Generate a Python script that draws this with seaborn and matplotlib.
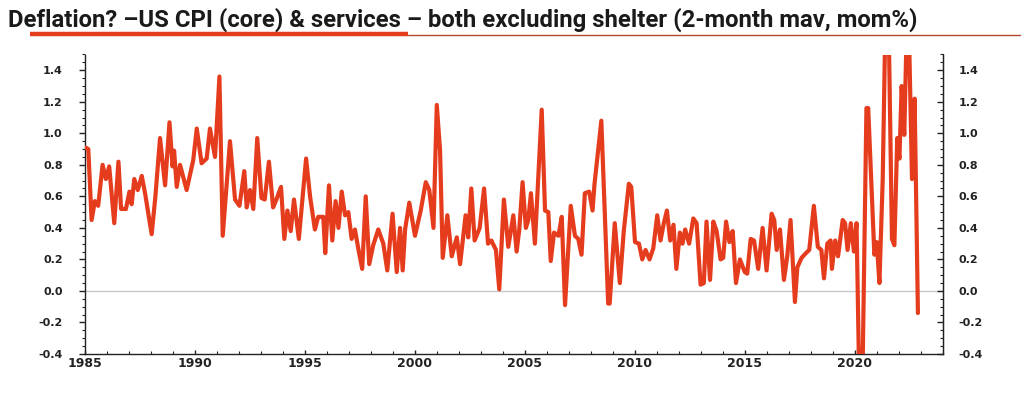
import matplotlib
matplotlib.use("Agg")
import matplotlib.pyplot as plt
from matplotlib.lines import Line2D
from matplotlib.ticker import MultipleLocator, FormatStrFormatter
import seaborn as sns
import pandas as pd

# ---- data (decimal year, value in mom%) ----
years = [
    1985.02, 1985.15, 1985.30, 1985.45, 1985.60, 1985.80, 1985.95, 1986.10, 1986.33, 1986.52, 1986.64, 1986.86,
    1987.02, 1987.12, 1987.24, 1987.40, 1987.58, 1987.73, 1988.03, 1988.20, 1988.41, 1988.64, 1988.84, 1988.98,
    1989.05, 1989.17, 1989.32, 1989.62, 1989.92, 1990.08, 1990.30, 1990.53, 1990.68, 1990.91, 1991.11, 1991.26,
    1991.59, 1991.82, 1992.02, 1992.24, 1992.35, 1992.50, 1992.65, 1992.83, 1993.02, 1993.17, 1993.36, 1993.55,
    1993.70, 1993.91, 1994.06, 1994.20, 1994.35, 1994.50, 1994.72, 1995.05, 1995.23, 1995.45, 1995.60, 1995.83,
    1995.92, 1996.09, 1996.24, 1996.39, 1996.52, 1996.67, 1996.82, 1996.97, 1997.12, 1997.27, 1997.42, 1997.60,
    1997.76, 1997.92, 1998.10, 1998.33, 1998.56, 1998.74, 1998.98, 1999.17, 1999.32, 1999.44, 1999.55, 1999.74,
    2000.00, 2000.26, 2000.49, 2000.65, 2000.84, 2000.99, 2001.14, 2001.26, 2001.47, 2001.67, 2001.90, 2002.05,
    2002.30, 2002.42, 2002.56, 2002.71, 2002.94, 2003.14, 2003.32, 2003.47, 2003.68, 2003.83, 2004.04, 2004.24,
    2004.47, 2004.62, 2004.74, 2004.89, 2005.04, 2005.15, 2005.27, 2005.45, 2005.76, 2005.91, 2006.06, 2006.17,
    2006.32, 2006.52, 2006.67, 2006.82, 2007.08, 2007.27, 2007.42, 2007.57, 2007.72, 2007.92, 2008.07, 2008.16,
    2008.47, 2008.78, 2008.85, 2009.08, 2009.31, 2009.49, 2009.72, 2009.83, 2010.00, 2010.18, 2010.33, 2010.48,
    2010.66, 2010.83, 2011.01, 2011.16, 2011.31, 2011.45, 2011.60, 2011.75, 2011.88, 2012.04, 2012.16, 2012.28,
    2012.46, 2012.65, 2012.80, 2012.98, 2013.13, 2013.25, 2013.41, 2013.56, 2013.71, 2013.89, 2014.01, 2014.14,
    2014.29, 2014.44, 2014.59, 2014.77, 2014.99, 2015.10, 2015.26, 2015.41, 2015.60, 2015.80, 2015.98, 2016.21,
    2016.33, 2016.44, 2016.59, 2016.77, 2016.92, 2017.07, 2017.27, 2017.38, 2017.57, 2017.77, 2017.92, 2018.13,
    2018.31, 2018.47, 2018.59, 2018.74, 2018.89, 2018.95, 2019.10, 2019.23, 2019.44, 2019.55, 2019.66, 2019.81,
    2019.95, 2020.07, 2020.19, 2020.34, 2020.52, 2020.60, 2020.88, 2020.99, 2021.11, 2021.26, 2021.38, 2021.53,
    2021.68, 2021.79, 2021.92, 2022.02, 2022.12, 2022.24, 2022.34, 2022.46, 2022.59, 2022.71, 2022.86,
]
values = [
    0.91, 0.90, 0.45, 0.57, 0.54, 0.80, 0.71, 0.79, 0.43, 0.82, 0.52, 0.52,
    0.63, 0.55, 0.71, 0.64, 0.73, 0.62, 0.36, 0.60, 0.97, 0.67, 1.07, 0.79,
    0.89, 0.66, 0.80, 0.64, 0.83, 1.03, 0.81, 0.84, 1.03, 0.85, 1.36, 0.35,
    0.95, 0.58, 0.54, 0.76, 0.53, 0.64, 0.52, 0.97, 0.59, 0.58, 0.82, 0.53,
    0.58, 0.66, 0.33, 0.51, 0.38, 0.58, 0.33, 0.84, 0.60, 0.39, 0.47, 0.47,
    0.24, 0.67, 0.32, 0.57, 0.40, 0.63, 0.48, 0.50, 0.33, 0.39, 0.27, 0.14,
    0.60, 0.17, 0.29, 0.39, 0.30, 0.13, 0.49, 0.12, 0.40, 0.13, 0.39, 0.56,
    0.35, 0.51, 0.69, 0.64, 0.40, 1.18, 0.89, 0.21, 0.48, 0.22, 0.34, 0.17,
    0.48, 0.34, 0.65, 0.32, 0.40, 0.65, 0.30, 0.32, 0.26, 0.01, 0.58, 0.28,
    0.48, 0.25, 0.39, 0.69, 0.40, 0.45, 0.62, 0.30, 1.15, 0.51, 0.50, 0.19,
    0.37, 0.35, 0.47, -0.09, 0.54, 0.35, 0.33, 0.23, 0.62, 0.63, 0.51, 0.68,
    1.08, -0.08, -0.08, 0.43, 0.05, 0.38, 0.68, 0.66, 0.31, 0.30, 0.20, 0.26,
    0.20, 0.27, 0.48, 0.32, 0.43, 0.51, 0.32, 0.42, 0.14, 0.37, 0.30, 0.39,
    0.30, 0.46, 0.43, 0.04, 0.05, 0.44, 0.07, 0.44, 0.38, 0.20, 0.21, 0.44,
    0.31, 0.38, 0.05, 0.20, 0.12, 0.11, 0.33, 0.32, 0.14, 0.40, 0.13, 0.49,
    0.45, 0.26, 0.39, 0.07, 0.22, 0.45, -0.07, 0.15, 0.21, 0.24, 0.26, 0.54,
    0.28, 0.26, 0.08, 0.30, 0.32, 0.14, 0.32, 0.22, 0.45, 0.43, 0.26, 0.43,
    0.25, 0.43, -0.55, -0.55, 1.16, 1.16, 0.23, 0.31, 0.05, 0.71, 1.70, 1.70,
    0.33, 0.29, 0.97, 0.84, 1.30, 0.99, 1.60, 1.60, 0.71, 1.22, -0.14,
]
ytick_vals = [-0.4, -0.2, 0.0, 0.2, 0.4, 0.6, 0.8, 1.0, 1.2, 1.4]
xtick_vals = [1985, 1990, 1995, 2000, 2005, 2010, 2015, 2020]
title = "Deflation? \u2013US CPI (core) & services \u2013 both excluding shelter (2-month mav, mom%)"

df = pd.DataFrame({"year": years, "value": values})

sns.set_style("white")
plt.rcParams["axes.unicode_minus"] = False
plt.rcParams["font.family"] = ["DejaVu Sans"]

RED = "#E63C1E"
TICKFONT = dict(family="DejaVu Sans", weight="bold", size=8)

fig = plt.figure(figsize=(10.24, 3.98), dpi=100)
ax = fig.add_axes([85 / 1024, 1 - 354 / 398, (943 - 85) / 1024, (354 - 54.5) / 398])

ax.axhline(0, color="#c8c8c8", lw=1.0, zorder=0)
sns.lineplot(data=df, x="year", y="value", ax=ax, color=RED, linewidth=3.0,
             sort=False, estimator=None, zorder=3)

ax.set_xlim(1985, 2024)
ax.set_ylim(-0.4, 1.5)
ax.set_xlabel("")
ax.set_ylabel("")

for s in ["left", "bottom", "right"]:
    ax.spines[s].set_visible(True)
    ax.spines[s].set_color("#222222")
    ax.spines[s].set_linewidth(1.0)
ax.spines["top"].set_visible(False)

ax.set_yticks(ytick_vals)
ax.yaxis.set_major_formatter(FormatStrFormatter("%.1f"))
ax.yaxis.set_minor_locator(MultipleLocator(0.05))
ax.set_xticks(xtick_vals)
ax.xaxis.set_minor_locator(MultipleLocator(1))

ax.tick_params(axis="y", which="major", direction="out", length=4, width=1,
               left=True, right=False, pad=12, colors="#222222")
ax.tick_params(axis="y", which="minor", direction="out", length=2, width=0.8,
               left=True, right=False)
ax.tick_params(axis="x", which="major", direction="in", length=3, width=1,
               bottom=True, pad=2, colors="#222222")
ax.tick_params(axis="x", which="minor", direction="in", length=2, width=0.8, bottom=True)
for lab in ax.get_yticklabels():
    lab.set(**TICKFONT)
for lab in ax.get_xticklabels():
    lab.set(family="DejaVu Sans", weight="bold", size=9)

ax2 = ax.twinx()
ax2.set_ylim(-0.4, 1.5)
ax2.set_yticks(ytick_vals)
ax2.yaxis.set_major_formatter(FormatStrFormatter("%.1f"))
ax2.yaxis.set_minor_locator(MultipleLocator(0.05))
ax2.tick_params(axis="y", which="major", direction="in", length=4, width=1,
                pad=11, colors="#222222")
ax2.tick_params(axis="y", which="minor", direction="in", length=2, width=0.8)
for s in ["left", "bottom", "top"]:
    ax2.spines[s].set_visible(False)
ax2.spines["right"].set_color("#222222")
for lab in ax2.get_yticklabels():
    lab.set(**TICKFONT)

fig.text(8 / 1024, 1 - 27 / 398, title, fontsize=17.2, fontweight="bold",
         color="#1a1a1a", family=["Roboto", "DejaVu Sans"], va="baseline", ha="left")
fig.add_artist(Line2D([30 / 1024, 408 / 1024], [1 - 34 / 398] * 2, color=RED, lw=3.2,
                      solid_capstyle="butt"))
fig.add_artist(Line2D([408 / 1024, 1020 / 1024], [1 - 34.5 / 398] * 2, color="#B5472E", lw=1.0))

fig.savefig("out.png", dpi=100)
